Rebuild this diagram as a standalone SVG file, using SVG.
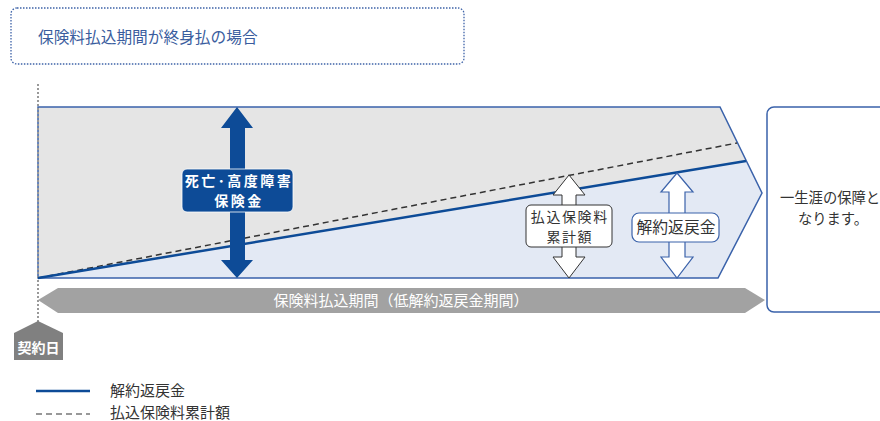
<svg xmlns="http://www.w3.org/2000/svg" width="880" height="421" viewBox="0 0 880 421">
<style>
text{font-family:"Noto Sans CJK JP","Noto Sans CJK SC",sans-serif}
.lbl{font-size:14px;text-anchor:middle}
.wht{fill:#ffffff}
.dk{fill:#333333}
</style>
<rect width="880" height="421" fill="#ffffff"/>
<g id="title">
<rect x="11" y="8" width="453" height="56" rx="6" fill="none" stroke="#3e63a8" stroke-width="1.3" stroke-dasharray="1.5 1.5"/>
<text x="38" y="43" font-size="15.7" fill="#3a5d9e">保険料払込期間が終身払の場合</text>
</g>
<g id="chart">
<polygon points="38,107 720,107 762,193 718,278 38,278" fill="#e5e5e5"/>
<polygon points="38,278 746,161 762,193 718,278" fill="#e3e9f4"/>
<polygon points="38,107 720,107 762,193 718,278 38,278" fill="none" stroke="#3a62aa" stroke-width="1.5"/>
</g>
<g id="connectors">
<line x1="38" y1="84" x2="38" y2="322" stroke="#999999" stroke-width="2" stroke-dasharray="2 2"/>
<line x1="38" y1="278" x2="737" y2="143" stroke="#333333" stroke-width="1.5" stroke-dasharray="6 4"/>
<line x1="38" y1="278" x2="746" y2="161" stroke="#0d4b97" stroke-width="2.5"/>
</g>
<g id="death-benefit">
<polygon points="237,107 253,128 245,128 245,260 253,260 237,278 221,260 230,260 230,128 221,128" fill="#0d4b97"/>
<rect x="182" y="169" width="111" height="43" rx="5" fill="#0d4b97" stroke="#ffffff" stroke-width="0.8"/>
<text class="lbl wht" x="239" y="185.5" font-weight="bold" letter-spacing="2.5">死亡･高度障害</text>
<text class="lbl wht" x="239" y="205.5" font-weight="bold" letter-spacing="2.5">保険金</text>
</g>
<g id="premium-total">
<polygon points="569,175 585,195 576,195 576,257 585,257 569,278 553,257 562,257 562,195 553,195" fill="#ffffff" stroke="#333333" stroke-width="1"/>
<rect x="526" y="205" width="86" height="42" rx="5" fill="#ffffff" stroke="#333333" stroke-width="1"/>
<text class="lbl dk" x="569.8" y="222" letter-spacing="1.6">払込保険料</text>
<text class="lbl dk" x="569.8" y="242" letter-spacing="1.6">累計額</text>
</g>
<g id="surrender-value">
<polygon points="677,173 693,192 685,192 685,257 693,257 677,278 661,257 669,257 669,192 661,192" fill="#ffffff" stroke="#3a62aa" stroke-width="1.2"/>
<rect x="632" y="213" width="87" height="29" rx="7" fill="#ffffff" stroke="#3a62aa" stroke-width="1.2"/>
<text class="dk" x="676" y="233" font-size="15.8" text-anchor="middle">解約返戻金</text>
</g>
<g id="lifetime">
<rect x="767" y="107" width="130" height="205" rx="7" fill="#ffffff" stroke="#3a62aa" stroke-width="1.5"/>
<text class="dk" x="780" y="203" font-size="14.3">一生涯の保障と</text>
<text class="dk" x="833" y="224" font-size="14.3" text-anchor="middle">なります。</text>
</g>
<g id="period">
<polygon points="38,300 58,288 745,288 765,300 745,313 58,313" fill="#a2a2a2"/>
<text class="wht" x="401" y="305.5" font-size="15" text-anchor="middle">保険料払込期間（低解約返戻金期間）</text>
</g>
<g id="contract-date">
<polygon points="38,321 63,333 63,360 14,360 14,333" fill="#808080"/>
<text class="wht" x="38.5" y="353" font-size="14" text-anchor="middle" font-weight="bold">契約日</text>
</g>
<g id="legend">
<line x1="36" y1="391" x2="90" y2="391" stroke="#0d4b97" stroke-width="2.5"/>
<text class="dk" x="110" y="396" font-size="15">解約返戻金</text>
<line x1="36" y1="414" x2="90" y2="414" stroke="#333333" stroke-width="1.2" stroke-dasharray="6 4"/>
<text class="dk" x="110" y="418" font-size="15">払込保険料累計額</text>
</g>
</svg>
